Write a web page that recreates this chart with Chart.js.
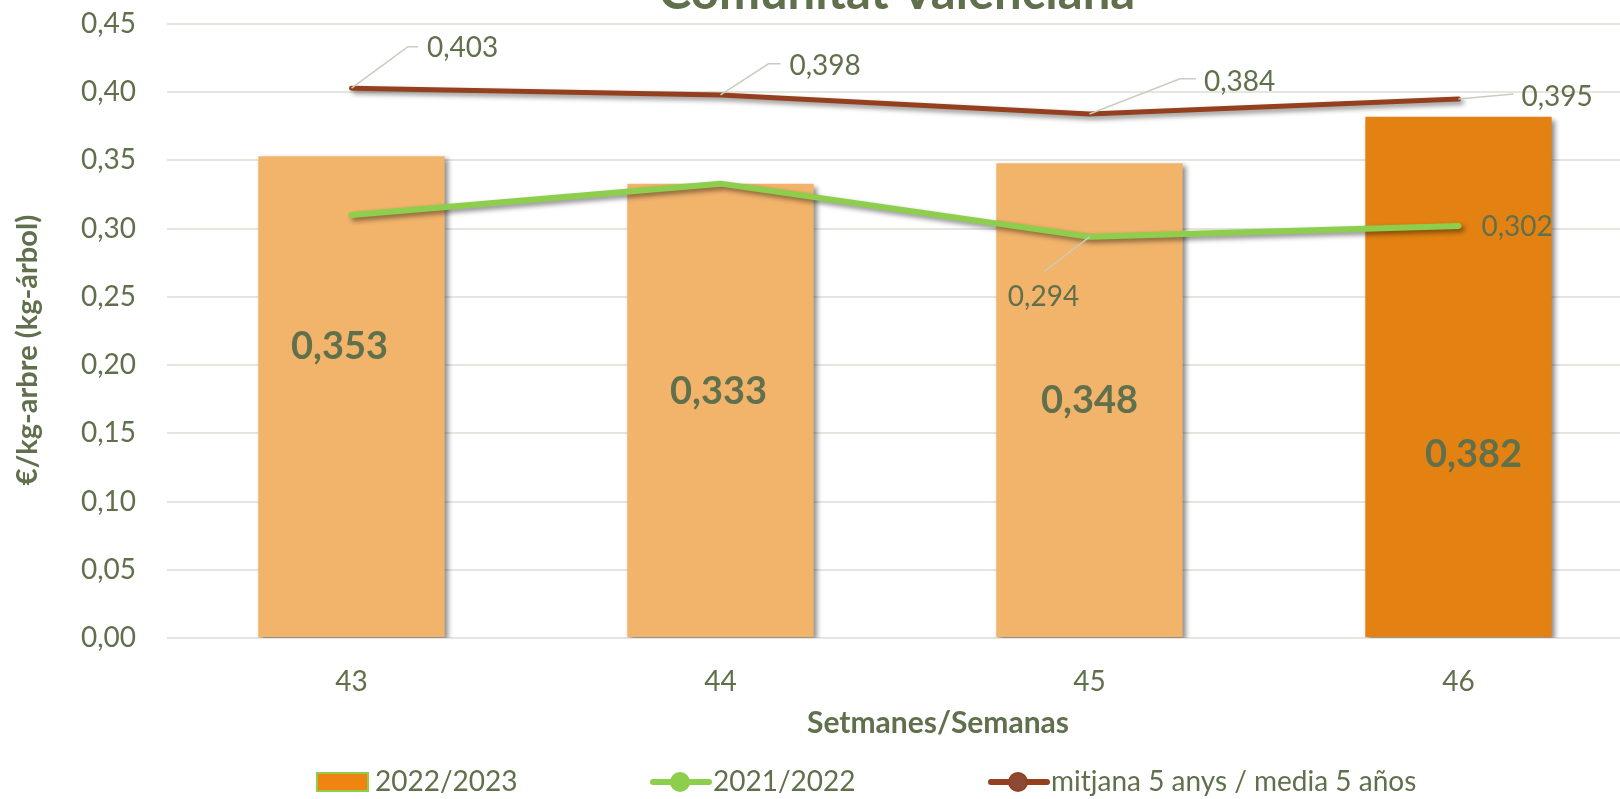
<!DOCTYPE html>
<html>
<head>
<meta charset="utf-8">
<title>Comunitat Valenciana</title>
<script src="https://cdn.jsdelivr.net/npm/chart.js@4.4.1/dist/chart.umd.min.js"></script>
<style>
  html, body { margin: 0; padding: 0; background: #fff; overflow: hidden; }
  #wrap { width: 1620px; height: 799px; overflow: hidden; position: relative; }
  #chart { position: absolute; left: 0; top: 0; }
</style>
</head>
<body>
<div id="wrap"><canvas id="chart" width="1660" height="799"></canvas></div>
<script>
// data
const weeks = ['43', '44', '45', '46'];
const campaign2223 = [0.353, 0.333, 0.348, 0.382];
const campaign2122 = [0.310, 0.333, 0.294, 0.302];
const average5y = [0.403, 0.398, 0.384, 0.395];
const yTicks = [0, 0.05, 0.10, 0.15, 0.20, 0.25, 0.30, 0.35, 0.40, 0.45];
const seriesNames = ['2022/2023', '2021/2022', 'mitjana 5 anys / media 5 años'];

const textColour = '#60704C';
const barColours = ['#F2B36B', '#F2B36B', '#F2B36B', '#E38212'];
const greenColour = '#8DCF4C';
const brownColour = '#94401F';
const leaderColour = '#C8CDBF';

// label placement (pixels, relative to the bar base / the point)
const barLabelOffset = [[-12, -290], [-2, -245], [0, -236], [15, -182]];
const avgLabelPos = [
    { tx: 75.5, ty: -40.4, leader: [[56.5, -41.4], [66.5, -41.4]] },
    { tx: 69, ty: -28.5, leader: [[48, -31.2], [60, -31.2]] },
    { tx: 114.5, ty: -32.3, leader: [[90.5, -35.3], [106.5, -35.3]] },
    { tx: 63, ty: -2.3, leader: [[55, -5]] }
];
const greenLabelPos = [
    null,
    null,
    { tx: -81.7, ty: 59.7, leader: [[-45, 34.4]] },
    { tx: 23, ty: 1.3, leader: null }
];

function fmt(v, d) {
    return v.toFixed(d).replace('.', ',');
}

function drawPointLabel(ctx, pt, text, pos) {
    if (pos.leader) {
        ctx.beginPath();
        ctx.moveTo(pt.x, pt.y);
        pos.leader.forEach(p => ctx.lineTo(pt.x + p[0], pt.y + p[1]));
        ctx.strokeStyle = leaderColour;
        ctx.lineWidth = 1.5;
        ctx.stroke();
    }
    ctx.textAlign = 'left';
    ctx.textBaseline = 'middle';
    ctx.fillText(text, pt.x + pos.tx, pt.y + pos.ty);
}

const decorations = {
    id: 'decorations',
    beforeDatasetDraw(chart) {
        const ctx = chart.ctx;
        ctx.save();
        ctx.shadowColor = 'rgba(0, 0, 0, 0.45)';
        ctx.shadowBlur = 5;
        ctx.shadowOffsetX = 3;
        ctx.shadowOffsetY = 3;
    },
    afterDatasetDraw(chart) {
        chart.ctx.restore();
    },
    afterDraw(chart) {
        const ctx = chart.ctx;
        ctx.save();
        ctx.fillStyle = textColour;

        // title (cut off at the top like in the original)
        ctx.font = 'bold 49px Lato';
        ctx.textAlign = 'center';
        ctx.textBaseline = 'alphabetic';
        ctx.fillText('Comunitat Valenciana', 897, 8.5);

        // axis titles
        ctx.font = 'bold 30px Lato';
        ctx.textBaseline = 'middle';
        ctx.fillText('Setmanes/Semanas', 938, 723);
        ctx.save();
        ctx.translate(28, 350);
        ctx.rotate(-Math.PI / 2);
        ctx.font = 'bold 29px Lato';
        ctx.fillText('€/kg-arbre (kg-árbol)', 0, 0);
        ctx.restore();

        // bar values
        ctx.font = 'bold 38px Lato';
        ctx.textAlign = 'center';
        chart.getDatasetMeta(0).data.forEach((bar, i) => {
            const off = barLabelOffset[i];
            ctx.fillText(fmt(campaign2223[i], 3), bar.x + off[0], bar.base + off[1]);
        });

        // line values
        ctx.font = '28px Lato';
        chart.getDatasetMeta(2).data.forEach((pt, i) => {
            drawPointLabel(ctx, pt, fmt(average5y[i], 3), avgLabelPos[i]);
        });
        chart.getDatasetMeta(1).data.forEach((pt, i) => {
            if (greenLabelPos[i]) drawPointLabel(ctx, pt, fmt(campaign2122[i], 3), greenLabelPos[i]);
        });

        // legend
        const ly = 782;
        ctx.fillStyle = '#EF8410';
        ctx.fillRect(317, 773, 51, 18);
        ctx.strokeStyle = greenColour;
        ctx.lineWidth = 2;
        ctx.strokeRect(317, 773, 51, 18);

        ctx.lineCap = 'round';
        [[653, greenColour, greenColour], [991, brownColour, '#8B4A33']].forEach(item => {
            const x = item[0];
            ctx.beginPath();
            ctx.moveTo(x, ly);
            ctx.lineTo(x + 56, ly);
            ctx.strokeStyle = item[1];
            ctx.lineWidth = 6;
            ctx.stroke();
            ctx.beginPath();
            ctx.arc(x + 27, ly, 9, 0, Math.PI * 2);
            ctx.fillStyle = item[2];
            ctx.fill();
            ctx.lineWidth = 2;
            ctx.stroke();
        });

        ctx.fillStyle = textColour;
        ctx.font = '28px Lato';
        ctx.textAlign = 'left';
        ctx.textBaseline = 'middle';
        ctx.fillText(seriesNames[0], 375, ly);
        ctx.fillText(seriesNames[1], 713, ly);
        ctx.fillText(seriesNames[2], 1051, ly);
        ctx.restore();
    }
};

const ctx = document.getElementById('chart').getContext('2d');
const myChart = new Chart(ctx, {
    type: 'bar',
    data: {
        labels: weeks,
        datasets: [
            {
                type: 'bar',
                label: seriesNames[0],
                data: campaign2223,
                backgroundColor: barColours,
                barPercentage: 1,
                categoryPercentage: 0.505,
                order: 3
            },
            {
                type: 'line',
                label: seriesNames[1],
                data: campaign2122,
                borderColor: greenColour,
                borderWidth: 6,
                borderCapStyle: 'round',
                borderJoinStyle: 'round',
                pointRadius: 0,
                tension: 0,
                order: 2
            },
            {
                type: 'line',
                label: seriesNames[2],
                data: average5y,
                borderColor: brownColour,
                borderWidth: 5,
                borderCapStyle: 'round',
                borderJoinStyle: 'round',
                pointRadius: 0,
                tension: 0,
                order: 1
            }
        ]
    },
    options: {
        responsive: false,
        animation: false,
        layout: { padding: { top: 24, right: 17, bottom: 0, left: 0 } },
        plugins: {
            legend: { display: false },
            title: { display: false },
            tooltip: { enabled: false }
        },
        scales: {
            x: {
                grid: { display: false },
                border: { display: false },
                ticks: { color: textColour, font: { family: 'Lato', size: 28 }, padding: 19 },
                afterFit(scale) { scale.height = 161; }
            },
            y: {
                min: 0,
                max: 0.45,
                grid: { color: '#E6E6DF', lineWidth: 2, drawTicks: false },
                border: { display: false },
                ticks: {
                    color: textColour,
                    font: { family: 'Lato', size: 28 },
                    padding: 31,
                    callback: v => fmt(v, 2)
                },
                afterBuildTicks(scale) { scale.ticks = yTicks.map(v => ({ value: v })); },
                afterFit(scale) {
                    scale.width = 167;
                    scale.paddingTop = 0;
                    scale.paddingBottom = 0;
                }
            }
        }
    },
    plugins: [decorations]
});
</script>
</body>
</html>
